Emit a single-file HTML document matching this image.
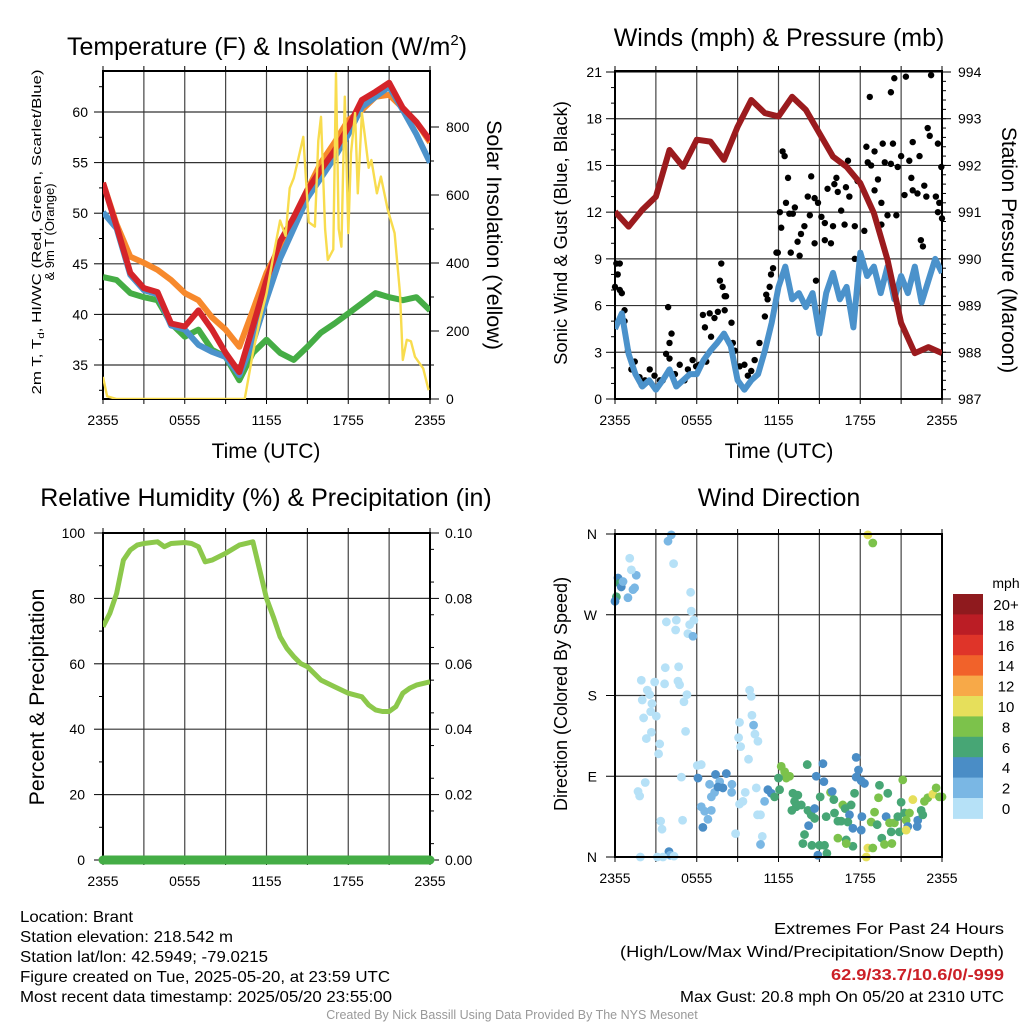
<!DOCTYPE html>
<html><head><meta charset="utf-8"><style>
html,body{margin:0;padding:0;background:#fff;}
svg{display:block;font-family:"Liberation Sans",Arial,sans-serif;}
</style></head><body>
<svg id="fig" width="1024" height="1024" viewBox="0 0 1024 1024" xmlns="http://www.w3.org/2000/svg">
<rect x="0" y="0" width="1024" height="1024" fill="#fff"/>
<text x="267" y="55" font-size="25" text-anchor="middle">Temperature (F) &amp; Insolation (W/m<tspan font-size="15" dy="-10">2</tspan><tspan dy="10">)</tspan></text>
<text x="779" y="46" font-size="25" text-anchor="middle">Winds (mph) &amp; Pressure (mb)</text>
<text x="266" y="506" font-size="25" text-anchor="middle">Relative Humidity (%) &amp; Precipitation (in)</text>
<text x="779" y="506" font-size="25" text-anchor="middle">Wind Direction</text>

<text transform="translate(41,232) rotate(-90)" font-size="13" text-anchor="middle" textLength="325" lengthAdjust="spacingAndGlyphs">2m T, T<tspan font-size="9" dy="3">d</tspan><tspan dy="-3">, HI/WC (Red, Green, Scarlet/Blue)</tspan></text>
<text transform="translate(54,232) rotate(-90)" font-size="13" text-anchor="middle">&amp; 9m T (Orange)</text>
<text transform="translate(487,235) rotate(90)" font-size="21.5" text-anchor="middle">Solar Insolation (Yellow)</text>
<text x="266" y="458" font-size="21" text-anchor="middle">Time (UTC)</text>
<text x="779" y="458" font-size="21" text-anchor="middle">Time (UTC)</text>
<text transform="translate(567,233) rotate(-90)" font-size="18.4" text-anchor="middle">Sonic Wind &amp; Gust (Blue, Black)</text>
<text transform="translate(1002,250) rotate(90)" font-size="21" text-anchor="middle">Station Pressure (Maroon)</text>
<text transform="translate(44,697) rotate(-90)" font-size="21.3" text-anchor="middle">Percent &amp; Precipitation</text>
<text transform="translate(567,694) rotate(-90)" font-size="18" text-anchor="middle">Direction (Colored By Speed)</text>

<g font-size="16">
<text x="20" y="922" textLength="113" lengthAdjust="spacingAndGlyphs">Location: Brant</text>
<text x="20" y="942" textLength="213" lengthAdjust="spacingAndGlyphs">Station elevation: 218.542 m</text>
<text x="20" y="962" textLength="248" lengthAdjust="spacingAndGlyphs">Station lat/lon: 42.5949; -79.0215</text>
<text x="20" y="982" textLength="370" lengthAdjust="spacingAndGlyphs">Figure created on Tue, 2025-05-20, at 23:59 UTC</text>
<text x="20" y="1002" textLength="372" lengthAdjust="spacingAndGlyphs">Most recent data timestamp: 2025/05/20 23:55:00</text>
</g>
<g font-size="16" text-anchor="end">
<text x="1004" y="934" textLength="230" lengthAdjust="spacingAndGlyphs">Extremes For Past 24 Hours</text>
<text x="1004" y="957" textLength="384" lengthAdjust="spacingAndGlyphs">(High/Low/Max Wind/Precipitation/Snow Depth)</text>
<text x="1004" y="980" fill="#cc2027" font-weight="bold" textLength="173" lengthAdjust="spacingAndGlyphs">62.9/33.7/10.6/0/-999</text>
<text x="1004" y="1002" textLength="324" lengthAdjust="spacingAndGlyphs">Max Gust: 20.8 mph On 05/20 at 2310 UTC</text>
</g>
<text x="512" y="1019" font-size="12.5" fill="#999" text-anchor="middle">Created By Nick Bassill Using Data Provided By The NYS Mesonet</text>
<g id="layer"></g>
</svg>
<script>
// ---------- data ----------
const xTickLabels = ["2355","0555","1155","1755","2355"];
const hourly = [0,1,2,3,4,5,6,7,8,9,10,11,12,13,14,15,16,17,18,19,20,21,22,23,24];
const tempRed    = [53.0,48.7,44.1,42.6,42.2,39.1,38.8,40.4,38.5,36.2,34.3,38.8,43.4,47.2,49.6,52.3,54.3,56.2,58.5,61.2,62.0,62.9,60.4,59.0,57.2];
const tempOrange = [53.0,48.9,45.7,45.1,44.4,43.4,42.1,41.4,39.7,38.5,36.8,40.4,44.1,46.7,49.6,52.3,55.0,57.0,59.2,60.2,61.5,61.7,60.4,59.0,57.0];
const tempBlue   = [50.1,48.5,43.9,42.4,42.0,38.9,38.5,37.0,36.3,35.8,34.0,37.2,41.5,45.5,48.5,51.5,53.5,55.5,57.8,60.5,61.5,62.5,60.2,57.8,55.0];
const tempGreen  = [43.7,43.4,42.1,41.7,41.4,39.1,37.8,38.5,36.5,35.8,33.5,36.2,37.5,36.2,35.5,36.8,38.2,39.1,40.1,41.1,42.1,41.7,41.4,41.7,40.4];
const tempTicks = [35,40,45,50,55,60];
const solarTicks = [0,200,400,600,800];
const solarHours  = [0,0.3,1,10.4,11,11.5,12,12.5,13,13.4,13.7,14,14.3,14.7,15.1,15.55,15.8,16.0,16.3,16.5,16.9,17.1,17.3,17.5,17.75,18.0,18.2,18.5,18.7,19.0,19.2,19.5,19.7,20.1,20.4,20.9,21.4,21.8,22.0,22.3,22.6,22.9,23.5,23.9];
const solarValues = [65,8,0,0,135,230,310,420,525,480,620,650,700,771,520,507,760,830,500,409,440,958,500,448,889,488,723,841,605,841,780,680,703,605,654,556,488,311,115,174,170,124,90,26];

const windHours = [];
for (let i=0;i<=48;i++) windHours.push(i/2);
const windSpeed = [4.5,5.5,2.9,1.6,0.8,1.2,0.6,1.2,1.9,0.8,1.2,1.6,1.6,2.5,3.1,3.6,4.2,3.4,1.2,0.6,1.2,1.6,3.1,4.9,7.2,8.5,6.4,6.8,5.9,6.8,4.2,6.8,8.1,6.4,7.2,4.6,9.4,7.9,8.5,6.8,8.5,6.4,7.9,6.8,8.5,6.2,7.6,9.0,8.1];
const pressure = [991.01,990.69,991.05,991.33,992.33,991.97,992.55,992.51,992.12,992.83,993.40,993.12,993.05,993.47,993.19,992.69,992.19,991.97,991.62,990.98,989.98,988.63,987.98,988.11,987.98];
const gustHours = [0,0.1,0.35,0.2,0.35,0.5,0.7,0.7,0.95,1.2,1.45,1.8,1.95,2.2,2.55,2.9,3.3,3.5,3.9,4.0,4.15,4.0,3.75,4.4,4.75,5.1,5.35,5.7,5.95,6.2,6.45,6.6,6.7,6.95,7.05,7.3,7.55,7.8,7.7,7.9,8.05,8.15,8.05,8.55,8.65,8.8,9.15,9.5,9.75,10.0,10.25,10.6,11.0,11.1,11.2,11.35,11.45,11.6,11.85,11.95,12.1,12.2,12.3,12.45,12.55,12.7,12.8,13.05,13.2,12.9,13.4,13.55,13.65,13.9,14.15,14.3,14.4,14.65,14.65,14.9,14.75,15.15,15.4,15.4,15.6,15.85,16.0,16.1,16.25,16.35,16.6,16.85,16.95,17.1,17.2,17.6,17.6,17.8,18.3,18.45,18.55,18.7,18.8,19.05,19.05,19.3,19.55,19.55,19.65,19.8,20.0,20.25,20.25,20.4,20.5,20.65,20.75,21.0,21.25,21.35,21.6,21.75,21.85,21.85,22.2,22.35,22.45,22.6,22.7,22.85,22.95,23.1,23.2,23.55,23.7,23.7,23.8,23.95,24];
const gustMph   = [7.2,8.7,8.7,8.0,7.0,6.8,5.7,5.0,3.1,1.9,2.4,1.4,0.9,1.2,1.9,1.5,1.2,1.2,5.9,3.6,4.2,2.6,2.9,1.6,2.2,1.2,1.9,2.5,2.1,2.2,5.4,4.6,2.4,5.5,4.0,5.2,5.6,8.7,7.6,7.2,6.6,6.6,5.7,4.9,3.6,3.1,2.1,2.2,1.5,1.8,2.5,3.6,5.3,6.7,6.4,7.2,8.0,8.4,9.4,9.4,12.0,11.0,15.9,15.6,12.6,14.2,11.9,11.9,12.3,9.4,10.1,9.2,10.6,11.1,13.0,11.8,14.3,12.9,10.0,12.6,7.6,11.7,11.3,10.2,13.5,10.0,11.1,13.8,14.2,13.3,12.1,11.2,13.6,15.3,13.0,11.1,9.0,14.0,10.8,16.2,15.2,19.4,15.0,15.9,13.4,14.1,11.2,12.6,16.4,15.2,11.8,15.1,19.7,16.4,20.6,11.8,14.9,15.6,13.1,20.7,15.3,14.2,16.5,13.4,13.2,15.6,10.2,9.8,13.7,13.0,17.4,16.9,20.8,13.0,16.4,12.0,12.6,14.9,11.6];
const windTicks = [0,3,6,9,12,15,18,21];
const pressTicks = [987,988,989,990,991,992,993,994];

const rhHours  = [0,0.5,1,1.5,2,2.5,3,4,4.5,5,6,6.5,7,7.5,8,9,10,11,11.5,12,12.5,13,13.5,14,14.5,15,16,17,18,19,19.5,20,20.5,21,21.5,22,22.5,23,24];
const rhValues = [71.3,75.4,81.5,91.7,94.8,96.3,96.8,97.3,95.8,96.8,97.1,96.8,95.8,91.2,91.7,93.8,96.3,97.3,88.7,80.0,74.4,68.3,64.7,62.2,60.1,59.1,55.0,53.0,51.0,49.9,47.4,45.9,45.4,45.4,46.9,51.0,52.5,53.5,54.5];
const precipHours = [0,24];
const precipValues = [0,0];
const rhTicks = [0,20,40,60,80,100];
const precipTicks = ["0.00","0.02","0.04","0.06","0.08","0.10"];

const dirHours = [0.22,0.34,0.46,0.59,0.1,0,0.95,1.32,1.44,1.56,1.2,1.08,4.13,3.89,4.3,5.55,5.6,5.79,5.48,5.35,5.72,3.77,4.5,4.45,3.69,4.67,1.93,2.91,3.64,4.62,4.74,2.37,2.54,2.0,5.28,5.06,2.71,2.62,3.03,2.1,2.67,2.3,5.18,3.28,3.2,9.88,10.0,10.05,10.17,9.14,10.27,10.49,9.07,9.22,9.8,2.22,1.69,1.81,4.87,6.04,6.33,6.09,7.38,8.17,7.68,7.92,7.31,7.55,7.07,6.94,8.58,8.56,6.33,6.58,7.07,6.82,6.45,4.96,3.35,3.45,8.85,9.39,9.56,9.14,10.37,10.98,11.22,11.47,11.71,10.68,10.46,10.81,10.68,3.96,4.06,4.33,3.52,3.11,1.86,12.2,12.45,12.57,12.81,12.0,12.08,13.06,13.42,13.18,13.3,12.98,13.67,14.11,14.16,14.4,14.65,14.65,14.21,13.91,13.79,14.45,15.01,15.5,15.38,15.55,14.89,15.26,14.77,15.33,15.06,15.82,15.94,16.06,16.11,16.36,16.6,16.36,16.97,16.72,16.89,17.21,17.09,17.46,16.97,17.33,17.58,17.7,17.87,17.7,18.07,18.31,18.12,18.07,17.46,18.8,18.56,18.44,18.92,19.05,19.24,19.41,19.34,19.9,20.02,20.15,20.27,20.51,20.76,21.0,21.12,20.88,21.25,21.37,21.49,21.61,21.86,21.37,22.22,22.47,22.59,22.71,22.96,23.33,23.57,23.81,24.0,22.18,20.32,19.58,19.78,18.56,18.92];
const dirDegrees = [311,305,301,307,290,285,289,298,300,314,320,333,359,352,327,295,274,264,259,249,246,262,264,253,211,212,197,195,193,196,192,186,181,175,181,173,171,162,157,155,139,132,140,126,115,186,179,158,147,150,137,129,133,123,109,83,73,68,89,102,103,88,92,93,84,77,72,78,67,81,81,72,56,51,52,42,33,41,40,31,26,62,72,59,77,62,75,71,67,47,47,23,14,6,2,1,0,0,0,101,95,88,90,88,75,71,69,62,56,52,58,103,52,47,54,43,35,25,15,13,13,45,13,4,2,104,90,84,67,72,73,64,49,40,40,21,19,58,54,47,39,12,15,58,71,111,97,89,85,82,45,30,32,39,10,0,10,50,36,80,66,45,71,38,28,38,45,61,86,28,49,41,34,49,64,30,41,52,47,62,66,70,77,67,67,34,15,21,14,359,350];
const dirSpeed = [4,6,4,2,6,4,2,2,2,2,1,0,2,2,0,0,0,0,0,0,2,0,0,0,0,0,0,0,0,0,0,0,0,0,0,0,0,0,0,0,0,0,0,0,0,0,0,0,2,0,0,0,0,0,0,0,0,0,0,0,0,4,4,4,2,4,2,4,2,2,2,2,2,2,2,2,4,0,0,0,0,0,0,0,0,2,4,4,6,0,0,0,2,4,2,0,0,0,0,8,8,8,8,6,6,6,6,6,6,6,6,6,6,6,4,6,4,6,6,6,6,6,6,6,4,4,4,4,6,8,4,6,6,6,6,8,6,8,6,4,6,6,8,6,6,4,4,4,4,4,4,4,4,8,10,10,8,8,6,6,8,4,6,8,6,8,6,6,8,6,6,8,4,8,10,10,4,6,6,8,8,10,8,8,8,4,8,6,8,10,8];
const dirTickLabels = ["N","E","S","W","N"];
const speedBins = ["0","2","4","6","8","10","12","14","16","18","20+"];
const speedColors = ["#b6e1f7","#7ab7e4","#4a8dc6","#47a675","#7cc24b","#e6df5b","#f7a948","#f1622a","#df3429","#bb1d25","#8f1a1e"];

// ---------- helpers ----------
const NS="http://www.w3.org/2000/svg";
const layer=document.getElementById('layer');
function mk(tag,attrs,parent){const e=document.createElementNS(NS,tag);for(const k in attrs)e.setAttribute(k,attrs[k]);(parent||layer).appendChild(e);return e;}
function linScale(d0,d1,r0,r1){return v=>r0+(v-d0)*(r1-r0)/(d1-d0);}
function pathFrom(xs,ys,sx,sy){let d="";for(let i=0;i<xs.length;i++){d+=(i?"L":"M")+sx(xs[i]).toFixed(1)+","+sy(ys[i]).toFixed(1);}return d;}

function frame(x0,y0,x1,y1,name,hTicks,sx){
  const g=mk('g',{});
  
  
  for(let h=3;h<24;h+=3){const x=sx(h);
    const l=mk('line',{x1:x,y1:y0,x2:x,y2:y1,stroke:"#444","stroke-width":1.2},g);
    
    
  }
  for(let h=0;h<=24;h+=3){const x=sx(h);
    mk('line',{x1:x,y1:y0,x2:x,y2:y0-5,stroke:"#000","stroke-width":1},g);
    mk('line',{x1:x,y1:y1,x2:x,y2:y1+5,stroke:"#000","stroke-width":1},g);
  }
  for(let i=0;i<xTickLabels.length;i++){
    const t=mk('text',{x:sx(i*6),y:y1+26,"font-size":14,"text-anchor":"middle"},g);
    
    
    t.textContent=xTickLabels[i];
  }
  return g;
}
function hGrid(g,y,x0,x1){mk('line',{x1:x0,y1:y,x2:x1,y2:y,stroke:"#333","stroke-width":1.2},g);}
function border(g,x0,y0,x1,y1){mk('rect',{x:x0,y:y0,width:x1-x0,height:y1-y0,fill:"none",stroke:"#000","stroke-width":2},g);}
function leftTick(g,x,y,len){mk('line',{x1:x,y1:y,x2:x-len,y2:y,stroke:"#000","stroke-width":1},g);}
function rightTick(g,x,y,len){mk('line',{x1:x,y1:y,x2:x+len,y2:y,stroke:"#000","stroke-width":1},g);}
function label(g,x,y,txt,anchor,name,size){const t=mk('text',{x:x,y:y,"font-size":size||14,"text-anchor":anchor},g);t.textContent=txt;return t;}

// ---------- panel 1: temperature ----------
(function(){
  const X0=103,X1=430,Y0=71,Y1=399;
  const sx=linScale(0,24,X0,X1);
  const sy=linScale(35,60,365,112);
  const sSol=linScale(0,800,399,127);
  const g=frame(X0,Y0,X1,Y1,'temperature-panel',null,sx);
  tempTicks.forEach(v=>{hGrid(g,sy(v),X0,X1);leftTick(g,X0,sy(v),9);label(g,X0-15,sy(v)+5,String(v),'end','temp-y-tick-label',14);});
  for(let v=32.5;v<64;v+=5){leftTick(g,X0,sy(v),4);}
  solarTicks.forEach(v=>{rightTick(g,X1,sSol(v),9);label(g,X1+16,sSol(v)+5,String(v),'start','solar-y-tick-label',14);});
  for(let v=100;v<900;v+=200){rightTick(g,X1,sSol(v),4);}
  const clip=mk('clipPath',{id:'c1'});mk('rect',{x:X0,y:Y0,width:X1-X0,height:Y1-Y0},clip);
  const series=[[tempGreen,'#45ad45','dewpoint-line'],[tempOrange,'#f7892c','temp-9m-line'],[tempBlue,'#4b92cb','heat-index-line'],[tempRed,'#d4242a','temp-2m-line']];
  series.forEach(s=>{const p=mk('path',{d:pathFrom(hourly,s[0],sx,sy),fill:"none",stroke:s[1],"stroke-width":6,"stroke-linejoin":"round","clip-path":"url(#c1)"});});
  const p=mk('path',{d:pathFrom(solarHours,solarValues,sx,sSol),fill:"none",stroke:"#f8dc4e","stroke-width":2.4,"stroke-linejoin":"round","clip-path":"url(#c1)"});
  
  
  border(g,X0,Y0,X1,Y1);
})();

// ---------- panel 2: winds ----------
(function(){
  const X0=615,X1=942,Y0=71,Y1=399;
  const sx=linScale(0,24,X0,X1);
  const sy=linScale(0,21,399,72);
  const sp=linScale(987,994,399,72);
  const g=frame(X0,Y0,X1,Y1,'wind-panel',null,sx);
  windTicks.forEach(v=>{hGrid(g,sy(v),X0,X1);leftTick(g,X0,sy(v),9);label(g,X0-13,sy(v)+5,String(v),'end','wind-y-tick-label',14);});
  for(let v=1;v<21;v++){if(v%3)leftTick(g,X0,sy(v),4);}
  pressTicks.forEach(v=>{rightTick(g,X1,sp(v),9);label(g,X1+16,sp(v)+5,String(v),'start','pressure-y-tick-label',14);});
  for(let v=987.2;v<994;v+=0.2){rightTick(g,X1,sp(v),4);}
  const clip=mk('clipPath',{id:'c2'});mk('rect',{x:X0,y:Y0,width:X1-X0,height:Y1-Y0},clip);
  const w=mk('path',{d:pathFrom(windHours,windSpeed,sx,sy),fill:"none",stroke:"#4b92cb","stroke-width":6,"stroke-linejoin":"round","clip-path":"url(#c2)"});
  
  
  const pr=mk('path',{d:pathFrom(hourly,pressure,sx,sp),fill:"none",stroke:"#9b1b1e","stroke-width":6,"stroke-linejoin":"round","clip-path":"url(#c2)"});
  
  
  for(let i=0;i<gustHours.length;i++){
    const c=mk('circle',{cx:sx(gustHours[i]),cy:sy(gustMph[i]),r:3.2,fill:"#000"},g);
    
    
  }
  border(g,X0,Y0,X1,Y1);
})();

// ---------- panel 3: RH ----------
(function(){
  const X0=103,X1=430,Y0=533,Y1=860;
  const sx=linScale(0,24,X0,X1);
  const sy=linScale(0,100,860,533);
  const sq=linScale(0,0.10,860,533);
  const g=frame(X0,Y0,X1,Y1,'rh-panel',null,sx);
  rhTicks.forEach(v=>{hGrid(g,sy(v),X0,X1);leftTick(g,X0,sy(v),9);label(g,X0-18,sy(v)+5,String(v),'end','rh-y-tick-label',14);});
  for(let v=10;v<100;v+=20)leftTick(g,X0,sy(v),4);
  precipTicks.forEach((t,i)=>{rightTick(g,X1,sq(i*0.02),9);label(g,X1+15,sq(i*0.02)+5,t,'start','precip-y-tick-label',14);});
  for(let v=0.005;v<0.1;v+=0.01)rightTick(g,X1,sq(v),4);
  const clip=mk('clipPath',{id:'c3'});mk('rect',{x:X0,y:Y0,width:X1-X0,height:Y1-Y0},clip);
  const r=mk('path',{d:pathFrom(rhHours,rhValues,sx,sy),fill:"none",stroke:"#8cc84b","stroke-width":5,"stroke-linejoin":"round","clip-path":"url(#c3)"});
  
  
  border(g,X0,Y0,X1,Y1);
  const p=mk('path',{d:pathFrom(precipHours,precipValues,sx,sq),fill:"none",stroke:"#44ad46","stroke-width":9,"stroke-linecap":"round"});
  
  
})();

// ---------- panel 4: direction ----------
(function(){
  const X0=615,X1=942,Y0=534,Y1=857;
  const sx=linScale(0,24,X0,X1);
  const sy=linScale(0,360,857,534);
  const g=frame(X0,Y0,X1,Y1,'direction-panel',null,sx);
  dirTickLabels.forEach((t,i)=>{const y=sy(i*90);hGrid(g,y,X0,X1);leftTick(g,X0,y,9);label(g,X0-18,y+5,t,'end','dir-y-tick-label',14);});
  for(let i=0;i<dirHours.length;i++){
    const c=mk('circle',{cx:sx(dirHours[i]),cy:sy(dirDegrees[i]),r:4.4,fill:speedColors[Math.min(10,Math.floor(dirSpeed[i]/2))]},g);
    
    
  }
  border(g,X0,Y0,X1,Y1);
  const cb=mk('g',{});
  
  
  const bx=953,bw=30,by=594,bh=20.4;
  label(cb,1006,588,'mph','middle','colorbar-title',14);
  for(let i=0;i<speedBins.length;i++){
    const k=speedBins.length-1-i;
    const r=mk('rect',{x:bx,y:by+i*bh,width:bw,height:bh+0.5,fill:speedColors[k]},cb);
    
    
    label(cb,1006,by+i*bh+16,speedBins[k],'middle','colorbar-label',15);
  }
})();
</script>
</body></html>
